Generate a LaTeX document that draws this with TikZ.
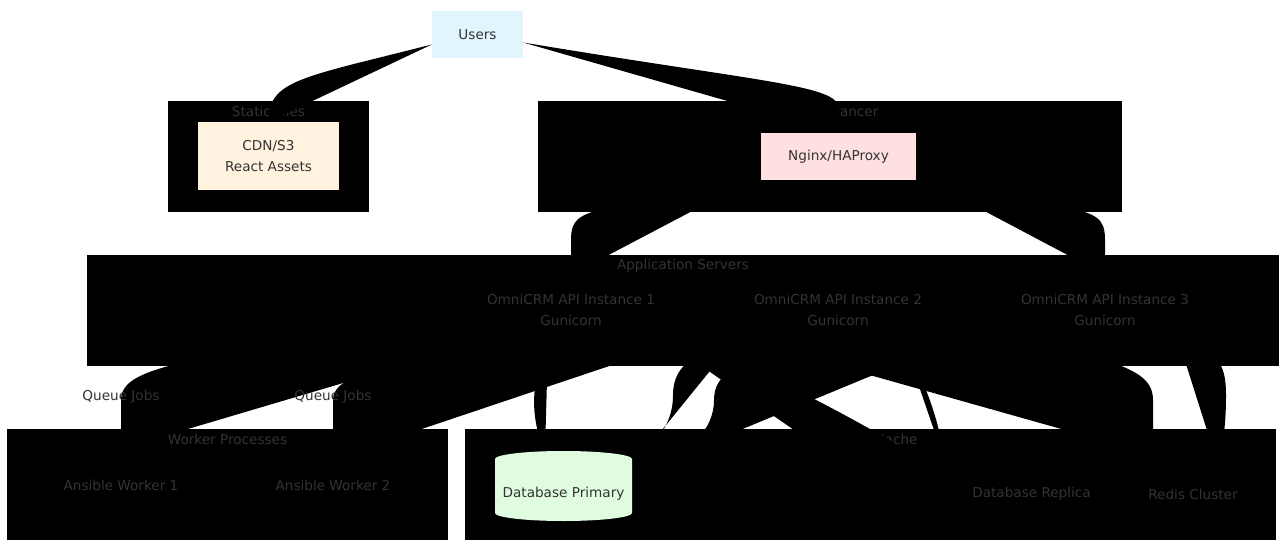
\documentclass[tikz,border=0pt]{standalone}
\usepackage{fontspec}
\setmainfont{DejaVu Sans}
\definecolor{ink}{HTML}{333333}
\definecolor{userfill}{HTML}{E1F5FE}
\definecolor{cdnfill}{HTML}{FFF3E0}
\definecolor{lbfill}{HTML}{FFE0E0}
\definecolor{dbfill}{HTML}{E0FCE0}
\pgfdeclarelayer{clusters}
\pgfdeclarelayer{links}
\pgfsetlayers{clusters,links,main}
\begin{document}
\begin{tikzpicture}[x=1pt,y=-1pt,
  every node/.style={font=\fontsize{13.6}{21}\selectfont, text=ink, inner sep=0pt, align=center},
  cluster/.style={rectangle, fill=black, minimum width=#1},
  darkbox/.style={rectangle, fill=black},
  link/.style={fill=black}]
\useasboundingbox (0,0) rectangle (1279,540);

% ---------- subgraph backgrounds and titles ----------
\begin{pgfonlayer}{clusters}
  \fill[white] (0,0) rectangle (1279,540);
  \node[cluster=201pt, minimum height=111pt] (static) at (268.5,156.5) {};
  \node (tstatic) at (268.5,111) {Static Files};
  \node[cluster=584pt, minimum height=111pt] (lb) at (830,156.5) {};
  \node (tlb) at (830,111) {Load Balancer};
  \node[cluster=1192pt, minimum height=111pt] (app) at (683,310.5) {};
  \node (tapp) at (683,266) {Application Servers};
  \node[cluster=441pt, minimum height=111pt] (workers) at (227.5,484.5) {};
  \node (tworkers) at (227.5,439) {Worker Processes};
  \node[cluster=811pt, minimum height=111pt] (dc) at (870.5,484.5) {};
  \node (tdc) at (870.5,439) {Data \& Cache};
\end{pgfonlayer}

% ---------- nodes ----------
\node[fill=userfill, minimum width=91pt, minimum height=47pt] (users) at (477.5,34.5) {Users};
\node[fill=cdnfill, minimum width=141pt, minimum height=68pt] (cdn) at (268.5,156) {CDN/S3\\React Assets};
\node[fill=lbfill, minimum width=155pt, minimum height=47pt] (nginx) at (838.5,156.5) {Nginx/HAProxy};

\node[darkbox, minimum width=200pt, minimum height=70pt] (api1) at (571,310) {OmniCRM API Instance 1\\Gunicorn};
\node[darkbox, minimum width=200pt, minimum height=70pt] (api2) at (838,310) {OmniCRM API Instance 2\\Gunicorn};
\node[darkbox, minimum width=200pt, minimum height=70pt] (api3) at (1105,310) {OmniCRM API Instance 3\\Gunicorn};

\node[darkbox, minimum width=146pt, minimum height=64pt] (w1) at (121,485) {Ansible Worker 1};
\node[darkbox, minimum width=146pt, minimum height=64pt] (w2) at (333,485) {Ansible Worker 2};

% database cylinder
\fill[dbfill] (495,459) -- (495,513)
  arc[start angle=180, end angle=360, x radius=68.5pt, y radius=8pt]
  -- (632,459)
  arc[start angle=0, end angle=180, x radius=68.5pt, y radius=8pt] -- cycle;
\node[minimum width=137pt, minimum height=54pt] (db) at (563.5,494) {Database Primary};
\node[darkbox, minimum width=149pt, minimum height=64pt] (replica) at (1031.5,494) {Database Replica};
\node[darkbox, minimum width=120pt, minimum height=64pt] (redis) at (1193,494) {Redis Cluster};

% ---------- connectors (filled curves) ----------
\begin{pgfonlayer}{links}
  % users -> static assets / load balancer
  \fill[link] ([yshift=-10pt]users.west) .. controls (300,78) and (268.5,80) .. (cdn.north) -- cycle;
  \fill[link] ([yshift=-8pt]users.east) .. controls (760,82) and (838.5,85) .. (838.5,108)
    -- (nginx.north) -- cycle;
  % load balancer -> API instances
  \fill[link] ([xshift=-10pt]nginx.south west) -- (615,206)
    .. controls (580,214) and (571,218) .. (571,240) -- (api1.north) -- cycle;
  \fill[link] ([xshift=10pt]nginx.south east) -- (1062,206)
    .. controls (1097,214) and (1105,218) .. (1105,240) -- (api3.north) -- cycle;
  % API -> workers
  \fill[link] (api1.south west) -- (200,358)
    .. controls (150,370) and (121,378) .. (121,400) -- ([yshift=4pt]w1.north) -- cycle;
  \fill[link] (api1.south east) -- (433,358)
    .. controls (370,370) and (333,378) .. (333,400) -- ([yshift=-6pt]w2.north) -- cycle;
  % API -> database primary
  \fill[link] ([xshift=-23pt]api1.south) .. controls (530,380) and (530,420)
    .. ([xshift=-18.5pt,yshift=16pt]db.north) -- cycle;
  \fill[link] ([xshift=-7pt]api2.south west) .. controls (700,352) and (673,362) .. (673,395)
    .. controls (673,430) and (650,445) .. (db.north east) -- cycle;
  \fill[link] ([xshift=7pt]api2.south east) -- (800,352)
    .. controls (740,360) and (714,372) .. (714,400)
    .. controls (714,430) and (690,452) .. ([xshift=19pt]db.north east) -- cycle;
  \coordinate (dcin) at (855,472);
  \fill[link] (api1.south east) .. controls (730,355) and (800,390) .. (870,429)
    .. controls (922,452) and (900,472) .. (dcin) -- cycle;
  % API -> replica / redis
  \fill[link] ([xshift=67pt]api2.south) .. controls (926,384) and (940,423)
    .. ([xshift=-12pt]replica.north west) -- cycle;
  \fill[link] ([xshift=26pt]api2.south west) -- (1100,358)
    .. controls (1134,370) and (1153,378) .. (1153,400)
    -- ([xshift=-40pt,yshift=7pt]redis.north) -- cycle;
  \fill[link] ([xshift=75pt]api3.south) .. controls (1215,350) and (1226,360) .. (1226,395)
    .. controls (1226,430) and (1222,450) .. ([xshift=24pt]redis.north) -- cycle;
\end{pgfonlayer}

% ---------- edge labels ----------
\node (q1) at (121,397) {Queue Jobs};
\node (q2) at (333,397) {Queue Jobs};
\end{tikzpicture}
\end{document}
